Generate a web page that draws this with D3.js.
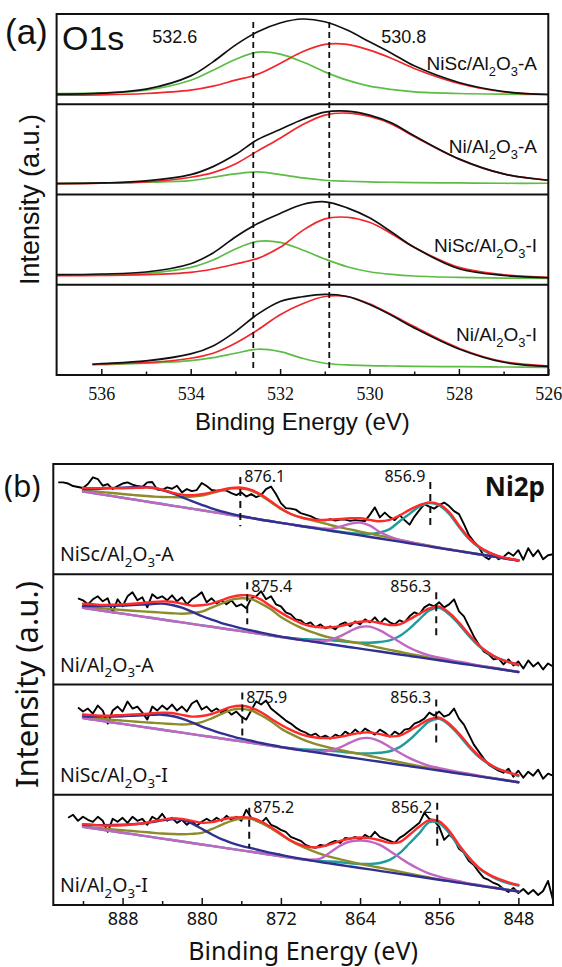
<!DOCTYPE html>
<html>
<head>
<meta charset="utf-8">
<script src="https://cdn.jsdelivr.net/npm/d3@7"></script>
<style>
  body { margin: 0; background: #fff; }
  svg { display: block; }
</style>
</head>
<body>
<svg id="chart" width="562" height="967"></svg>
<script>
// ---------- (a) O1s ----------
var o1sSamples = ["NiSc/Al2O3-A", "Ni/Al2O3-A", "NiSc/Al2O3-I", "Ni/Al2O3-I"];
var o1sEnergy = [537, 536, 535, 534, 533.5, 533, 532.5, 532, 531.5, 531, 530.5, 530, 529.5, 529, 528, 527, 526];
var o1sEnergyLast = [536.2, 536, 535, 534, 533.5, 533, 532.5, 532, 531.5, 531, 530.5, 530, 529.5, 529, 528, 527, 526];
// envelope (black)
var o1sTotal = [
  [10, 11, 15, 28.3, 42.3, 59, 72.3, 81, 85, 82.3, 74, 62.3, 50.7, 38.3, 21.7, 12.7, 9.7],
  [10.8, 11.5, 13.5, 19.8, 27.8, 39.8, 54.8, 64.8, 74.8, 82.2, 83.2, 79.2, 71.2, 58.5, 35.5, 20.5, 14.2],
  [10, 10.7, 12.7, 21, 31.7, 47.7, 61, 71, 80, 82.7, 76.7, 66.7, 52.3, 37.3, 16, 9.3, 7],
  [10.7, 11.3, 14, 21, 29, 43.3, 60.7, 73.3, 78, 80.5, 78.3, 70.3, 59.3, 47, 26, 12.7, 8.7]
];
// lattice oxygen, 530.8 eV (red)
var o1sLattice = [
  [9, 9.3, 10.7, 14, 18, 24, 30, 40.7, 52.3, 59.7, 59.7, 54, 45.7, 35.7, 20.7, 12.3, 9.7],
  [10.8, 11.2, 12.5, 17.2, 21.8, 30.5, 43.5, 56.2, 69.5, 79.2, 81.2, 77.8, 70.2, 57.8, 35.2, 20.5, 14.2],
  [9, 9.3, 10, 12.3, 15.7, 20.7, 26.3, 37.3, 54, 65.7, 67.3, 62.3, 50.7, 37.3, 17.3, 10, 7.3],
  [10.7, 11, 12.3, 16.7, 21.7, 31.7, 45, 60, 71, 78.3, 78.3, 71, 60, 48.3, 26.7, 13.3, 9]
];
// adsorbed / defect oxygen, 532.6 eV (green)
var o1sDefect = [
  [10.7, 11.3, 14, 24, 34, 44.7, 52, 50, 42.3, 32.3, 24, 18, 14.7, 12.3, 10.7, 10, 9.7],
  [11.2, 11.5, 12.2, 13.8, 17.2, 20.5, 22.5, 19.8, 16.5, 14.2, 13.2, 12.5, 12.2, 11.8, 11.5, 11.2, 11.2],
  [9.7, 10, 11.3, 17.3, 24.7, 35.7, 43.3, 42.3, 34.7, 25.7, 18, 13, 10.3, 8.7, 7.3, 6.7, 6.3],
  [10, 10.3, 11.7, 14.3, 17.3, 21.7, 25.7, 23.3, 16.7, 11.7, 10, 9.3, 9, 8.7, 8.3, 8, 7.7]
];
var o1sPeakLabels = ["532.6", "530.8"];
var o1sGuides = [532.6, 530.9];
var o1sMajorTicks = [536, 534, 532, 530, 528, 526];
var o1sMinorTicks = [535, 533, 531, 529, 527];

// ---------- (b) Ni2p ----------
var ni2pSamples = ["NiSc/Al2O3-A", "Ni/Al2O3-A", "NiSc/Al2O3-I", "Ni/Al2O3-I"];
var ni2pEnergy = [892, 891, 890, 889, 888, 887, 886, 885, 884, 883, 882, 881, 880, 879, 878,
  877, 876, 875, 874, 873, 872, 871, 870, 869, 868, 867, 866, 865, 864, 863, 862, 861, 860,
  859, 858, 857, 856, 855, 854, 853, 852, 851, 850, 849, 848];
var ni2pRawEnergy = [894.5, 894, 893.5, 893, 892.5, 892, 891.5, 891, 890.5, 890,
  889.5, 889, 888.5, 888, 887.5, 887, 886.5, 886, 885.5, 885,
  884.5, 884, 883.5, 883, 882.5, 882, 881.5, 881, 880.5, 880,
  879.5, 879, 878.5, 878, 877.5, 877, 876.5, 876, 875.5, 875,
  874.5, 874, 873.5, 873, 872.5, 872, 871.5, 871, 870.5, 870,
  869.5, 869, 868.5, 868, 867.5, 867, 866.5, 866, 865.5, 865,
  864.5, 864, 863.5, 863, 862.5, 862, 861.5, 861, 860.5, 860,
  859.5, 859, 858.5, 858, 857.5, 857, 856.5, 856, 855.5, 855,
  854.5, 854, 853.5, 853, 852.5, 852, 851.5, 851, 850.5, 850,
  849.5, 849, 848.5, 848, 847.5, 847, 846.5, 846, 845.5, 845, 844.5];
// measured spectra (black)
var ni2pRaw = [
  [91.7, 91.7, 90.5, 88, 87, 86, 90, 96.7, 95, 88.3,
   90, 85, 88, 90.5, 91.7, 89.5, 88, 87, 91.7, 92,
   84.5, 84, 86.7, 85.3, 88.3, 81.7, 85, 83, 84, 91,
   88, 84, 83.3, 84, 83.5, 81, 79, 81.7, 77.5, 80,
   77, 79, 85, 87.5, 80, 71, 66, 65.5, 64.5, 61,
   59.5, 58, 55.5, 54, 53.8, 55, 53.5, 54.5, 54.5, 53.3,
   54, 53.5, 53, 59.5, 66.7, 56.7, 61.5, 57, 54, 59,
   54, 49.5, 57.5, 64, 70, 67.5, 65.5, 69, 71.5, 68,
   63, 60, 50, 39, 32.5, 27.5, 18.3, 15, 20, 15,
   17.3, 21.7, 18.5, 24, 14.5, 26, 18, 24, 15, 19, 20],
  [null, null, null, null, 86, 84, 80, 85, 88, 83,
   86, 72, 85, 78, 88, 92, 84, 87, 77, 90,
   86, 88, 84, 89, 83, 87, 80, 85, 88, 92,
   82, 86, 81, 84, 80, 84, 78, 80, 76, 86,
   88, 93, 85, 88, 80, 78, 72, 70, 65, 64,
   60, 62, 57, 60, 56, 58, 55, 60, 62, 58,
   63, 60, 65, 62, 67, 61, 66, 62, 60, 64,
   62, 68, 72, 70, 77, 80, 78, 82, 77, 80,
   85, 73, 68, 58, 48, 40, 33, 30, 25, 26,
   20, 25, 19, 23, 16, 24, 18, 22, 15, 21, 18],
  [null, null, null, null, 87, 83, 86, 81, 89, 84,
   71, 84, 88, 83, 93, 86, 88, 82, 75, 88,
   84, 89, 85, 90, 84, 88, 83, 91, 94, 85,
   88, 83, 86, 82, 85, 80, 83, 78, 75, 84,
   93, 90, 94, 86, 82, 78, 74, 71, 67, 64,
   62, 59, 61, 57, 59, 56, 60, 58, 63, 60,
   65, 61, 66, 63, 60, 65, 62, 58, 63, 60,
   65, 66, 71, 73, 76, 82, 79, 83, 78, 80,
   86, 76, 70, 60, 50, 43, 36, 30, 27, 24,
   22, 26, 18, 24, 17, 23, 19, 25, 16, 21, 19],
  [null, null, 87, 90, 84, 88, 85, 83, 88, 84,
   73, 86, 83, 87, 82, 88, 84, 86, 80, 88,
   85, 91, 84, 87, 82, 85, 80, 84, 79, 83,
   86, 83, 87, 84, 89, 85, 88, 84, 95, 87,
   84, 82, 87, 80, 78, 75, 73, 68, 66, 64,
   60, 58, 57, 60, 59, 62, 64, 62, 67, 66,
   68, 65, 70, 67, 73, 68, 66, 64, 62, 67,
   70, 74, 78, 82, 92, 86, 84, 78, 65, 70,
   66, 56, 52, 44, 40, 33, 27, 25, 22, 20,
   16, 13, 17, 12, 16, 11, 15, 10, 14, 24, 5]
];
// linear background, value at 892 eV and at 848 eV
var ni2pBackground = [[82.6, 13.7], [76.5, 12.5], [76.5, 12.5], [78, 13.5]];
// fitted components, height above background (on ni2pEnergy)
var ni2pEnvelope = [
  [3.4, 4.9, 6.5, 8.1, 9.5, 11.3, 13.1, 14.7, 14.3, 13, 12.5, 13.5, 16, 19.5, 23.5,
   27, 28.9, 28.1, 25, 19.9, 14.5, 10.4, 8.6, 8.2, 9.1, 11.1, 13.3, 15.5, 17.1, 17,
   17.2, 20.2, 26.1, 33.3, 39.6, 43.9, 43.4, 37.3, 25.5, 14.8, 7.7, 3.6, 1.2, 0.4, 0.3],
  [4.1, 5, 5.7, 7.5, 9.3, 11.4, 13.5, 16, 18.1, 19.2, 18.7, 18.2, 20, 23.1, 27.9,
   32.7, 35.8, 36.9, 34.4, 29.1, 24.3, 20.1, 16.8, 15.3, 15.4, 16.9, 19.6, 23.4, 26.9, 28.7,
   28.5, 27.9, 30.1, 36.5, 43.6, 50.4, 53.6, 49, 40.5, 30.3, 21, 14.8, 10.5, 8.5, 7.5],
  [3.5, 4.4, 5.2, 7, 8.8, 10.8, 12.8, 15, 17, 18.2, 17.8, 17.5, 19.5, 23, 28,
   33, 35.5, 35, 32, 27, 22.5, 18.8, 16, 14.8, 15, 16.5, 19, 22.6, 26, 27.8,
   27.6, 27, 29, 35.5, 42.6, 49.5, 52.8, 48.2, 39.8, 29.6, 20.6, 14.4, 10.3, 8.3, 7],
  [2.7, 3.5, 4.2, 5.7, 7.5, 9.7, 12.1, 15.6, 18.7, 21.5, 22.6, 22.1, 21.6, 23.7, 27.5,
   31, 33.1, 33.9, 31.7, 27.5, 22.3, 17.1, 14.2, 13.4, 15.2, 19.3, 24.1, 27.9, 30.4, 31.2,
   30.6, 29.4, 31.6, 40.4, 50.1, 58, 58.2, 50.2, 37.7, 26.8, 17.9, 12.7, 9.6, 7.7, 6.5]
];
// satellite of 2p1/2 (navy)
var ni2pSatHigh = [
  [2.5, 4, 6, 8, 10, 12, 14, 14.7, 14, 12.5, 10, 7.5, 5.5, 3.5, 2,
   1.2, 0.6, 0.3, 0, 0, 0, 0, 0, 0, 0, 0, 0, 0, 0, 0,
   0, 0, 0, 0, 0, 0, 0, 0, 0, 0, 0, 0, 0, 0, 0],
  [1.8, 3.2, 4.7, 6.3, 8, 10, 11.9, 14, 15.8, 15.9, 14.7, 12.2, 9.3, 7.1, 5.2,
   4, 2.8, 2.2, 1.4, 0.8, 0.4, 0.2, 0, 0, 0, 0, 0, 0, 0, 0,
   0, 0, 0, 0, 0, 0, 0, 0, 0, 0, 0, 0, 0, 0, 0],
  [1.8, 3, 4.4, 6, 7.7, 9.6, 11.5, 13.4, 15, 15.2, 14, 11.8, 9, 6.9, 5,
   3.8, 2.7, 2.1, 1.3, 0.8, 0.4, 0.2, 0, 0, 0, 0, 0, 0, 0, 0,
   0, 0, 0, 0, 0, 0, 0, 0, 0, 0, 0, 0, 0, 0, 0],
  [2, 3.2, 4.6, 6.2, 7.9, 10, 12.1, 14.9, 18.1, 20.8, 22, 19.5, 15.6, 11.7, 8.2,
   6, 4.4, 3.6, 2.7, 1.8, 1.3, 0.8, 0.5, 0.3, 0, 0, 0, 0, 0, 0,
   0, 0, 0, 0, 0, 0, 0, 0, 0, 0, 0, 0, 0, 0, 0]
];
// Ni 2p1/2 (olive)
var ni2pMain12 = [
  [0.7, 1.7, 2.5, 3.1, 3.7, 4.4, 5.1, 6, 7, 8.4, 9.8, 12.2, 14.6, 18.7, 22.7,
   26.6, 27.9, 27.5, 24, 18.9, 13.8, 10.4, 8.6, 7.6, 6.8, 5.7, 4.9, 4.4, 3.8, 3.3,
   2.9, 2.3, 1.8, 1.3, 0.9, 0.6, 0.4, 0.3, 0.2, 0.1, 0, 0, 0, 0, 0],
  [1.1, 1.8, 2.4, 3, 3.7, 4.4, 5.2, 6, 6.8, 7.7, 8.7, 10.8, 13.6, 19.1, 24.5,
   30, 32.8, 33.4, 30.4, 26.1, 19.9, 15.7, 12.2, 9.6, 7.8, 6.6, 6, 5.4, 5.2, 4.4,
   3.8, 3.2, 2.7, 2.1, 1.6, 1.2, 0.9, 0.7, 0.5, 0.4, 0.4, 0.3, 0.3, 0.1, 0],
  [0.8, 1.4, 2, 2.6, 3.3, 4, 4.7, 5.5, 6.3, 7.2, 8.2, 10.2, 13.5, 18.6, 24.5,
   30, 32.5, 32.3, 29, 24.5, 18.8, 14.8, 11.6, 9.2, 7.6, 6.5, 5.9, 5.3, 5, 4.3,
   3.7, 3.1, 2.6, 2, 1.5, 1.1, 0.8, 0.6, 0.5, 0.4, 0.3, 0.3, 0.2, 0.1, 0],
  [0.3, 0.7, 1.2, 1.8, 2.5, 3.1, 3.8, 4.4, 5.1, 6.1, 7.3, 9.1, 11.6, 16.7, 22.5,
   28, 31.8, 33, 30.4, 26.5, 21.3, 16.8, 13.2, 10.4, 8.2, 6.6, 5.7, 4.9, 4, 3.5,
   3.3, 2.7, 2.2, 1.6, 1.1, 0.7, 0.4, 0.3, 0.2, 0.1, 0, 0, 0, 0, 0]
];
// satellite of 2p3/2 (magenta)
var ni2pSatLow = [
  [0, 0, 0, 0, 0, 0, 0, 0, 0, 0, 0, 0, 0, 0, 0,
   0, 0, 0, 0, 0, 0, 0, 0, 0.5, 1, 1.8, 5.5, 10, 12.7, 11.3,
   6.5, 3.5, 1.8, 1.2, 0.8, 0.4, 0.2, 0, 0, 0, 0, 0, 0, 0, 0],
  [0, 0, 0, 0, 0, 0, 0, 0, 0, 0, 0, 0, 0, 0, 0,
   0, 0, 0, 0, 0, 0, 0, 0, 0.3, 1.5, 4.5, 9.6, 16.1, 21.6, 23.4,
   21.1, 16.9, 12.4, 8.2, 5.3, 3.4, 2.6, 2, 1.5, 1.3, 0.7, 0.6, 0.5, 0.2, 0],
  [0, 0, 0, 0, 0, 0, 0, 0, 0, 0, 0, 0, 0, 0, 0,
   0, 0, 0, 0, 0, 0, 0, 0, 0.3, 1.2, 4, 8.6, 14.8, 20.2, 22.2,
   20.3, 16.3, 12, 8, 5.2, 3.3, 2.5, 1.9, 1.4, 1.2, 0.7, 0.5, 0.4, 0.2, 0],
  [0, 0, 0, 0, 0, 0, 0, 0, 0, 0, 0, 0, 0, 0, 0,
   0, 0, 0, 0, 0, 0, 0, 0, 0.8, 3.5, 11.3, 19.4, 24.9, 27.4, 27.8,
   25.9, 21.4, 16.2, 11.4, 7.5, 4.6, 3.1, 1.9, 1.4, 0.8, 0.6, 0.4, 0.3, 0.1, 0]
];
// Ni 2p3/2 (teal)
var ni2pMain32 = [
  [0, 0, 0, 0, 0, 0, 0, 0, 0, 0, 0, 0, 0, 0, 0,
   0, 0, 0, 0, 0, 0, 0, 0, 0, 0, 0, 0.5, 1, 1.8, 3,
   6, 11, 20.4, 29.3, 38.2, 43.2, 42.4, 35.6, 24, 13.8, 7, 2.6, 0.8, 0.3, 0],
  [0, 0, 0, 0, 0, 0, 0, 0, 0, 0, 0, 0, 0, 0, 0,
   0, 0, 0, 0, 0, 0, 0.5, 1, 2, 3, 4, 4.6, 5.1, 5.9, 7.4,
   9.5, 12.6, 18.4, 27.2, 38, 48.4, 52.4, 47.3, 38.8, 28.6, 20, 14.2, 10.6, 8.5, 6.5],
  [0, 0, 0, 0, 0, 0, 0, 0, 0, 0, 0, 0, 0, 0, 0,
   0, 0, 0, 0, 0, 0, 0.5, 1, 2, 3, 3.8, 4.3, 4.8, 5.5, 7,
   9, 12, 17.6, 26.4, 37.2, 47.6, 51.6, 46.8, 38.2, 28, 19.5, 13.8, 10.2, 8.2, 6.2],
  [0, 0, 0, 0, 0, 0, 0, 0, 0, 0, 0, 0, 0, 0, 0,
   0, 0, 0, 0, 0, 0, 0, 0, 0, 1, 2, 2.8, 3.2, 4, 5.5,
   7.9, 12.4, 20.6, 32, 43.5, 56, 56.5, 47.9, 36, 25.8, 17.3, 12.1, 8.6, 6.7, 5.8]
];
var ni2pPeakLabels = [[876.1, 856.9], [875.4, 856.3], [875.9, 856.3], [875.2, 856.2]];
// dashed marker extent (intensity, top and bottom)
var ni2pMarkerSpan = [
  [[97, 48], [92, 45]],
  [[102, 60], [92, 48]],
  [[102, 58], [95, 52]],
  [[97, 57], [102, 58]]
];
var ni2pMajorTicks = [888, 880, 872, 864, 856, 848];
var ni2pMinorTicks = [892, 884, 876, 868, 860, 852];

// ---------- drawing ----------
var svg = d3.select("#chart");
var arial = "'Liberation Sans', Arial, sans-serif";
var sans = "'Noto Sans', 'Open Sans', sans-serif";

// text with numeric subscripts (Al2O3)
function formula(sel, name, size) {
  var shift = size * 0.3;
  var prevSub = false;
  name.split(/(\d)/).forEach(function (p) {
    if (!p) return;
    var sub = /^\d$/.test(p);
    var dy = sub ? (prevSub ? 0 : shift) : (prevSub ? -shift : 0);
    sel.append("tspan").attr("font-size", sub ? size * 0.68 : size).attr("dy", dy).text(p);
    prevSub = sub;
  });
}

// ---- panel (a) ----
var aLeft = 56.6, aRight = 548.3, aTop = 14, aBottom = 375;
var aRowH = (aBottom - aTop) / 4;
var xO = d3.scaleLinear().domain([537, 526]).range([aLeft, aRight]);
var aLabelBase = [70, 153, 252, 341];

var gA = svg.append("g");

o1sSamples.forEach(function (name, i) {
  var top = aTop + i * aRowH, bottom = top + aRowH;
  var y = d3.scaleLinear().domain([0, 90]).range([bottom, top]);
  var energy = i === 3 ? o1sEnergyLast : o1sEnergy;
  var line = d3.line()
    .x(function (d) { return xO(d[0]); })
    .y(function (d) { return y(d[1]); })
    .curve(d3.curveCatmullRom.alpha(0.5));
  var pairs = function (vals) { return energy.map(function (e, k) { return [e, vals[k]]; }); };

  gA.append("path").attr("d", line(pairs(o1sDefect[i])))
    .attr("fill", "none").attr("stroke", "#5cbd45").attr("stroke-width", 1.7);
  gA.append("path").attr("d", line(pairs(o1sLattice[i])))
    .attr("fill", "none").attr("stroke", "#f2262a").attr("stroke-width", 1.7);
  gA.append("path").attr("d", line(pairs(o1sTotal[i])))
    .attr("fill", "none").attr("stroke", "#111").attr("stroke-width", 1.7);

  var t = gA.append("text").attr("x", 537).attr("y", aLabelBase[i])
    .attr("text-anchor", "end").attr("font-family", arial).attr("fill", "#111");
  formula(t, name, 19);
});

// guide lines
o1sGuides.forEach(function (e) {
  gA.append("line").attr("x1", xO(e)).attr("x2", xO(e)).attr("y1", 22).attr("y2", 368)
    .attr("stroke", "#111").attr("stroke-width", 1.8).attr("stroke-dasharray", "6,4");
});

// frame
gA.append("rect").attr("x", aLeft).attr("y", aTop).attr("width", aRight - aLeft).attr("height", aBottom - aTop)
  .attr("fill", "none").attr("stroke", "#111").attr("stroke-width", 2);
[1, 2, 3].forEach(function (k) {
  gA.append("line").attr("x1", aLeft).attr("x2", aRight)
    .attr("y1", aTop + k * aRowH).attr("y2", aTop + k * aRowH)
    .attr("stroke", "#111").attr("stroke-width", 2);
});

// axis
var axA = gA.append("g").attr("transform", "translate(0," + aBottom + ")")
  .call(d3.axisBottom(xO).tickValues(o1sMajorTicks).tickSize(-6).tickPadding(12).tickFormat(d3.format("d")));
axA.select(".domain").remove();
axA.selectAll("line").attr("stroke", "#111").attr("stroke-width", 1.5);
axA.selectAll("text").attr("font-family", "'Liberation Serif', 'Times New Roman', serif")
  .attr("font-size", 18).attr("fill", "#111");
var axA2 = gA.append("g").attr("transform", "translate(0," + aBottom + ")")
  .call(d3.axisBottom(xO).tickValues(o1sMinorTicks).tickSize(-3.5).tickFormat(""));
axA2.select(".domain").remove();
axA2.selectAll("line").attr("stroke", "#111").attr("stroke-width", 1.5);

// texts
gA.append("text").attr("x", 5).attr("y", 44).attr("font-family", arial).attr("font-size", 35).attr("fill", "#111").text("(a)");
gA.append("text").attr("x", 62).attr("y", 50).attr("font-family", arial).attr("font-size", 34).attr("fill", "#111").text("O1s");
gA.append("text").attr("x", xO(o1sGuides[0]) - 56).attr("y", 43).attr("text-anchor", "end")
  .attr("font-family", arial).attr("font-size", 18).attr("fill", "#111").text(o1sPeakLabels[0]);
gA.append("text").attr("x", xO(o1sGuides[1]) + 52).attr("y", 43)
  .attr("font-family", arial).attr("font-size", 18).attr("fill", "#111").text(o1sPeakLabels[1]);
gA.append("text").attr("x", (aLeft + aRight) / 2).attr("y", 430).attr("text-anchor", "middle")
  .attr("font-family", arial).attr("font-size", 24).attr("fill", "#111").text("Binding Energy (eV)");
gA.append("text").attr("transform", "translate(39," + ((aTop + aBottom) / 2 + 5) + ") rotate(-90)")
  .attr("text-anchor", "middle").attr("font-family", arial).attr("font-size", 27).attr("fill", "#111")
  .text("Intensity (a.u.)");

// ---- panel (b) ----
var bLeft = 53.3, bRight = 553, bTop = 464, bBottom = 905;
var bRowH = (bBottom - bTop) / 4;
var xN = d3.scaleLinear().domain([895, 844.5]).range([bLeft, bRight]);
var gB = svg.append("g");

// drawing order: teal, olive, magenta, navy, then red envelope on top
var fitLayers = [
  { data: ni2pMain32, color: "#1f9c9c" },
  { data: ni2pMain12, color: "#8c8c2c" },
  { data: ni2pSatLow, color: "#c266c4" },
  { data: ni2pSatHigh, color: "#30308f" },
  { data: ni2pEnvelope, color: "#ff2a2a" }
];

ni2pSamples.forEach(function (name, i) {
  var top = bTop + i * bRowH, bottom = top + bRowH;
  var y = d3.scaleLinear().domain([0, 110]).range([bottom, top]);
  var bg = d3.scaleLinear().domain([892, 848]).range(ni2pBackground[i]);
  var smooth = d3.line()
    .x(function (d) { return xN(d[0]); })
    .y(function (d) { return y(d[1]); })
    .curve(d3.curveCatmullRom.alpha(0.5));
  var comp = function (vals) { return ni2pEnergy.map(function (e, k) { return [e, bg(e) + vals[k]]; }); };

  // measured spectrum
  var raw = ni2pRawEnergy.map(function (e, k) { return [e, ni2pRaw[i][k]]; });
  gB.append("path")
    .attr("d", d3.line().defined(function (d) { return d[1] != null; })
      .x(function (d) { return xN(d[0]); }).y(function (d) { return y(d[1]); })(raw))
    .attr("fill", "none").attr("stroke", "#000").attr("stroke-width", 1.9).attr("stroke-linejoin", "round");

  fitLayers.forEach(function (c) {
    gB.append("path").attr("d", smooth(comp(c.data[i])))
      .attr("fill", "none").attr("stroke", c.color).attr("stroke-width", 2.4).attr("stroke-linecap", "round");
  });

  // peak markers + labels
  ni2pPeakLabels[i].forEach(function (e, k) {
    var span = ni2pMarkerSpan[i][k];
    gB.append("line").attr("x1", xN(e)).attr("x2", xN(e)).attr("y1", y(span[0])).attr("y2", y(span[1]))
      .attr("stroke", "#111").attr("stroke-width", 2).attr("stroke-dasharray", "7,5");
    gB.append("text").attr("x", k === 0 ? xN(e) + 4 : xN(e) - 5).attr("y", top + 18)
      .attr("text-anchor", k === 0 ? "start" : "end")
      .attr("font-family", sans).attr("font-size", 16).attr("fill", "#111").text(e.toFixed(1));
  });

  var t = gB.append("text").attr("x", 60).attr("y", bottom - 13)
    .attr("font-family", sans).attr("fill", "#111");
  formula(t, name, 19.5);
});

// frame
gB.append("rect").attr("x", bLeft).attr("y", bTop).attr("width", bRight - bLeft).attr("height", bBottom - bTop)
  .attr("fill", "none").attr("stroke", "#111").attr("stroke-width", 2);
[1, 2, 3].forEach(function (k) {
  gB.append("line").attr("x1", bLeft).attr("x2", bRight)
    .attr("y1", bTop + k * bRowH).attr("y2", bTop + k * bRowH)
    .attr("stroke", "#111").attr("stroke-width", 2);
});

var axB = gB.append("g").attr("transform", "translate(0," + bBottom + ")")
  .call(d3.axisBottom(xN).tickValues(ni2pMajorTicks).tickSize(-7).tickPadding(7).tickFormat(d3.format("d")));
axB.select(".domain").remove();
axB.selectAll("line").attr("stroke", "#111").attr("stroke-width", 1.5);
axB.selectAll("text").attr("font-family", sans).attr("font-size", 18).attr("fill", "#111");
var axB2 = gB.append("g").attr("transform", "translate(0," + bBottom + ")")
  .call(d3.axisBottom(xN).tickValues(ni2pMinorTicks).tickSize(-4).tickFormat(""));
axB2.select(".domain").remove();
axB2.selectAll("line").attr("stroke", "#111").attr("stroke-width", 1.5);

gB.append("text").attr("x", 4).attr("y", 497).attr("font-family", sans).attr("font-size", 30).attr("fill", "#111").text("(b)");
gB.append("text").attr("x", 545).attr("y", 496).attr("text-anchor", "end")
  .attr("font-family", sans).attr("font-weight", "bold").attr("font-size", 26).attr("fill", "#111").text("Ni2p");
gB.append("text").attr("x", (bLeft + bRight) / 2).attr("y", 960).attr("text-anchor", "middle")
  .attr("font-family", sans).attr("font-size", 25).attr("fill", "#111").text("Binding Energy (eV)");
gB.append("text").attr("transform", "translate(38," + ((bTop + bBottom) / 2) + ") rotate(-90)")
  .attr("text-anchor", "middle").attr("font-family", sans).attr("font-size", 31).attr("fill", "#111")
  .text("Intensity (a.u.)");
</script>
</body>
</html>
